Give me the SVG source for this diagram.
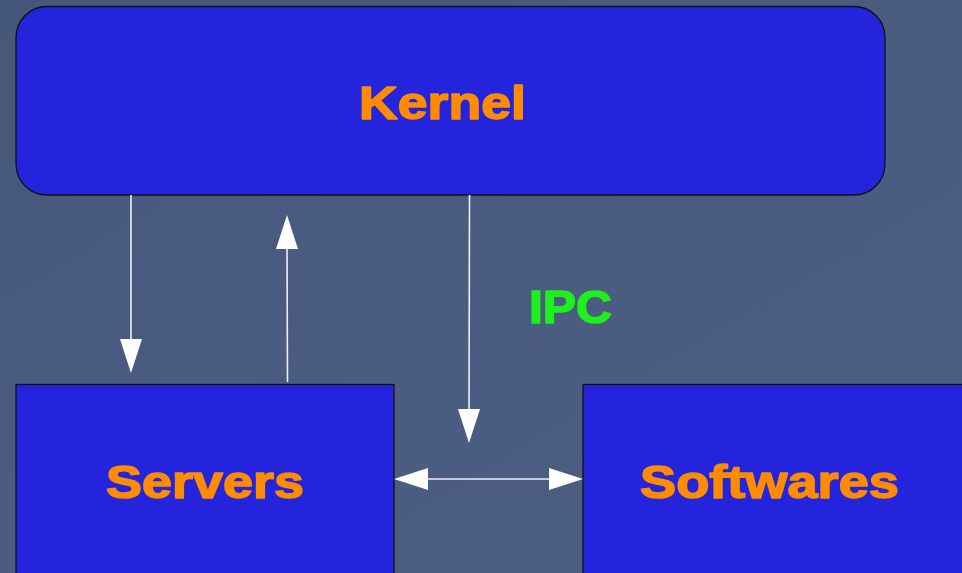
<svg xmlns="http://www.w3.org/2000/svg" width="962" height="573" viewBox="0 0 962 573">
<defs>
<style>
.box{fill:#2424dc;stroke:#111;stroke-width:1.3}
.lbl{font-family:"Liberation Sans",Arial,sans-serif;font-weight:bold;font-size:47px;fill:#ff8c00;stroke:#ff8c00;stroke-width:1.6;stroke-linejoin:round}
.ipc{font-family:"Liberation Sans",Arial,sans-serif;font-weight:bold;font-size:47px;fill:#1ef01e;stroke:#1ef01e;stroke-width:1.6;stroke-linejoin:round}
.ln{stroke:#eef0f4;stroke-width:1.6;fill:none}
.hd{fill:#ffffff}
</style>
<linearGradient id="bg" x1="0" y1="0" x2="1" y2="1">
<stop offset="0" stop-color="#45587a"/>
<stop offset="0.5" stop-color="#4a5c80"/>
<stop offset="1" stop-color="#4c5e80"/>
</linearGradient>
</defs>
<rect x="0" y="0" width="962" height="573" fill="url(#bg)"/>
<g id="kernel">
<rect class="box" x="16" y="6.5" width="869" height="188.5" rx="31" ry="31"/>
<text class="lbl" x="359" y="119" textLength="167" lengthAdjust="spacingAndGlyphs">Kernel</text>
</g>
<g id="servers">
<rect class="box" x="16" y="384.5" width="378" height="200"/>
<text class="lbl" x="106" y="498" textLength="198" lengthAdjust="spacingAndGlyphs">Servers</text>
</g>
<g id="softwares">
<rect class="box" x="583" y="384.5" width="390" height="200"/>
<text class="lbl" x="640" y="498" textLength="259" lengthAdjust="spacingAndGlyphs">Softwares</text>
</g>
<g id="connectors">
<line class="ln" x1="131" y1="195" x2="131" y2="345"/>
<polygon class="hd" points="120,339 142,339 131,373"/>
<line class="ln" x1="287.5" y1="382" x2="287" y2="245"/>
<polygon class="hd" points="276,249 298,249 287,215"/>
<line class="ln" x1="469.5" y1="195" x2="469" y2="415"/>
<polygon class="hd" points="458,409 480,409 469,443"/>
<line class="ln" x1="425" y1="479" x2="552" y2="479"/>
<polygon class="hd" points="394,479 428,468 428,490"/>
<polygon class="hd" points="583,479 549,468 549,490"/>
<text class="ipc" x="529" y="323" textLength="83" lengthAdjust="spacingAndGlyphs">IPC</text>
</g>
</svg>
